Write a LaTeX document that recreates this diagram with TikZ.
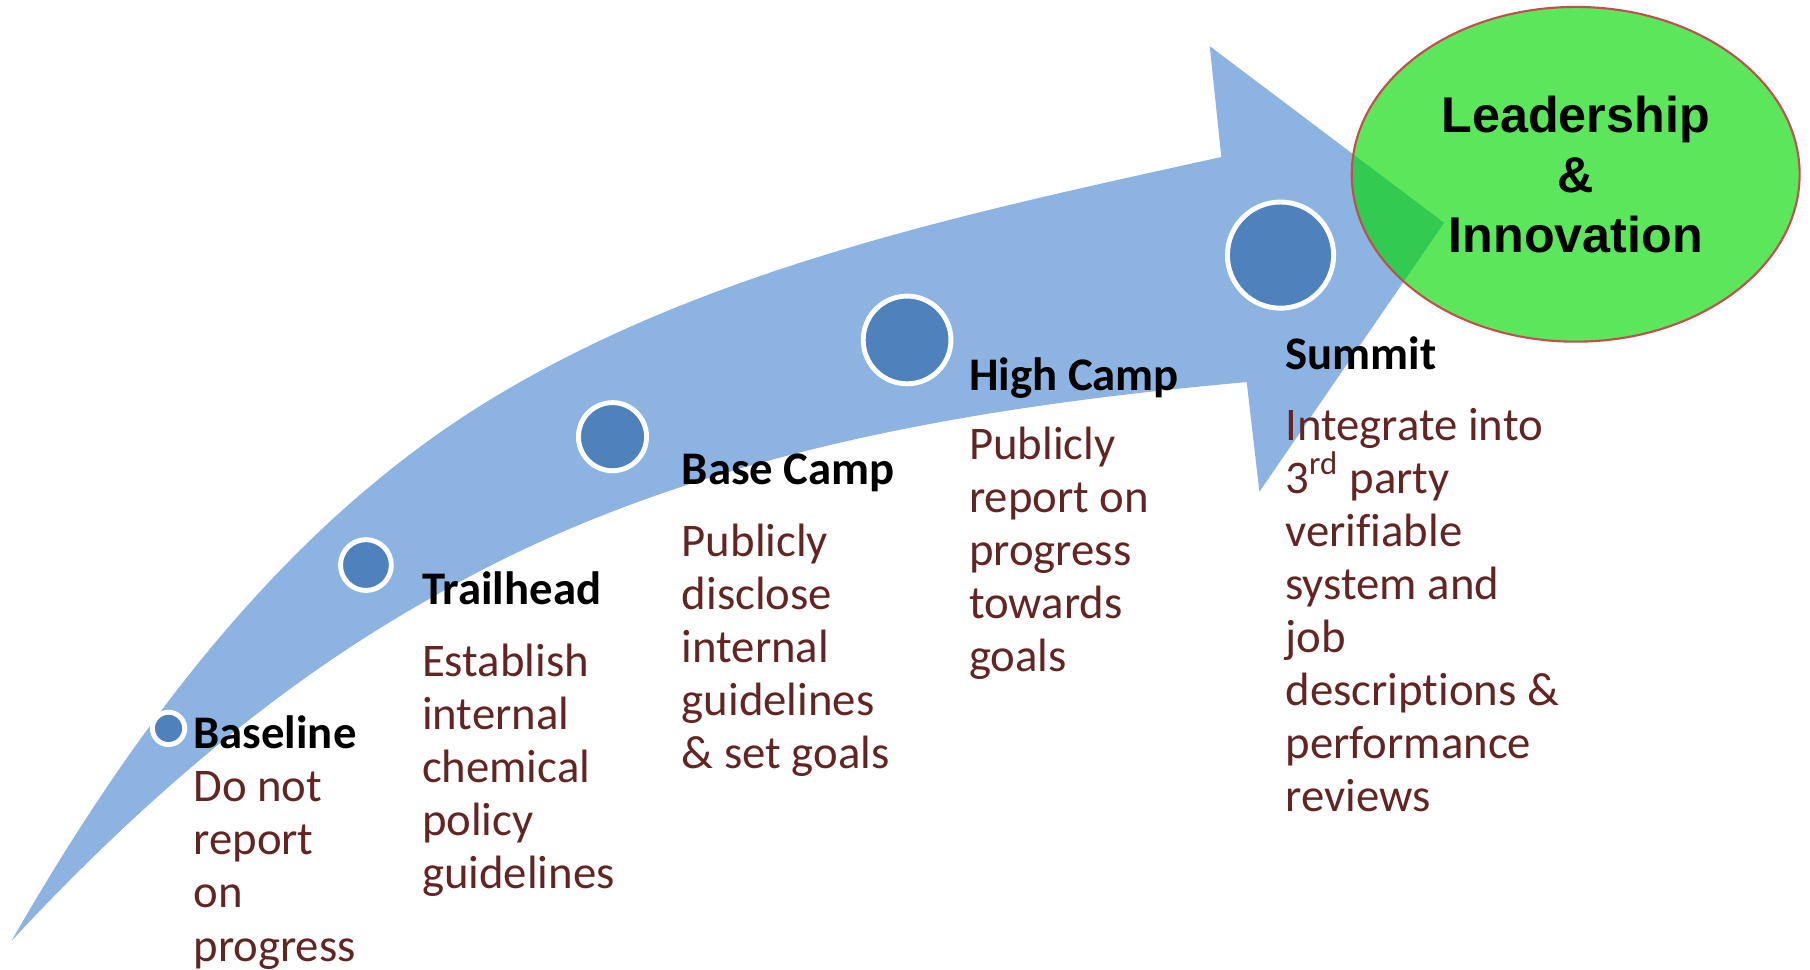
\documentclass[tikz,border=0pt]{standalone}
\usepackage{fontspec}
\setmainfont{Carlito}[Ligatures=NoCommon]
\newfontfamily\arialfont{Liberation Sans}
\usepackage{tikz}
\usetikzlibrary{shapes.geometric}

\definecolor{arrowblue}{RGB}{141,179,226}
\definecolor{dotblue}{RGB}{79,129,189}
\definecolor{maroon}{RGB}{99,37,35}
\definecolor{ringred}{RGB}{192,80,77}
\definecolor{leafgreen}{RGB}{0,216,0}

\tikzset{
  dot/.style={circle,fill=dotblue,draw=white,line width=1.4pt,inner sep=0pt,minimum size=#1*0.11543mm},
  stage/.style={anchor=base west,inner sep=0pt,font=\bfseries\fontsize{13.3}{15.1}\selectfont},
  goal/.style={anchor=base west,inner sep=0pt,align=left,text=maroon,font=\fontsize{13.3}{15.1}\selectfont},
}

\begin{document}
\begin{tikzpicture}[x=0.11543mm,y=-0.11543mm]
\useasboundingbox (0,0) rectangle (1568,840);

% curved arrow
\fill[arrowblue] (10,815) .. controls (115,632) and (246,455) .. (425,346)
  .. controls (614,231) and (841,184) .. (1058,136) -- (1048,40) -- (1251,193) -- (1091,426) -- (1080,331)
  .. controls (836,353) and (583,395) .. (370,520) .. controls (235,596) and (115,702) .. (10,815) -- cycle;

\node[dot=28] (Baselinedot) at (146,631) {};
\node[dot=44] (Trailheaddot) at (317,489.5) {};
\node[dot=59] (BaseCampdot) at (530.6,378.3) {};
\node[dot=76] (HighCampdot) at (785.8,294.5) {};
\node[dot=92] (Summitdot) at (1109.3,221) {};

\node[ellipse,minimum width=388*0.11543mm,minimum height=290*0.11543mm,fill=leafgreen,fill opacity=0.64,text opacity=1,draw=ringred,draw opacity=1,line width=0.6pt,align=center,font=\arialfont\bfseries\fontsize{14.3}{17.1}\selectfont] (Leadership) at (1365,151) {Leadership\\\&\\Innovation};

% stage names, text blocks sit on the baseline of their last line
\node[stage] (Baseline) at (167,648) {Baseline};
\node[goal] (Baselinetext) at (167,832.5) {Do not\\report\\on\\progress};

\node[stage] (Trailhead) at (365,524) {Trailhead};
\node[goal] (Trailheadtext) at (365,769.7) {Establish\\internal\\chemical\\policy\\guidelines};

\node[stage] (BaseCamp) at (590,420) {Base Camp};
\node[goal] (BaseCamptext) at (590,665.7) {Publicly\\disclose\\internal\\guidelines\\\& set goals};

\node[stage] (HighCamp) at (839,338) {High Camp};
\node[goal] (HighCamptext) at (839,582) {Publicly\\report on\\progress\\towards\\goals};

\node[stage] (Summit) at (1113,320.5) {Summit};
\node[goal] (Summittext) at (1113,703) {Integrate into\\3\textsuperscript{rd} party\\verifiable\\system and\\job\\descriptions \&\\performance\\reviews};
\end{tikzpicture}
\end{document}
